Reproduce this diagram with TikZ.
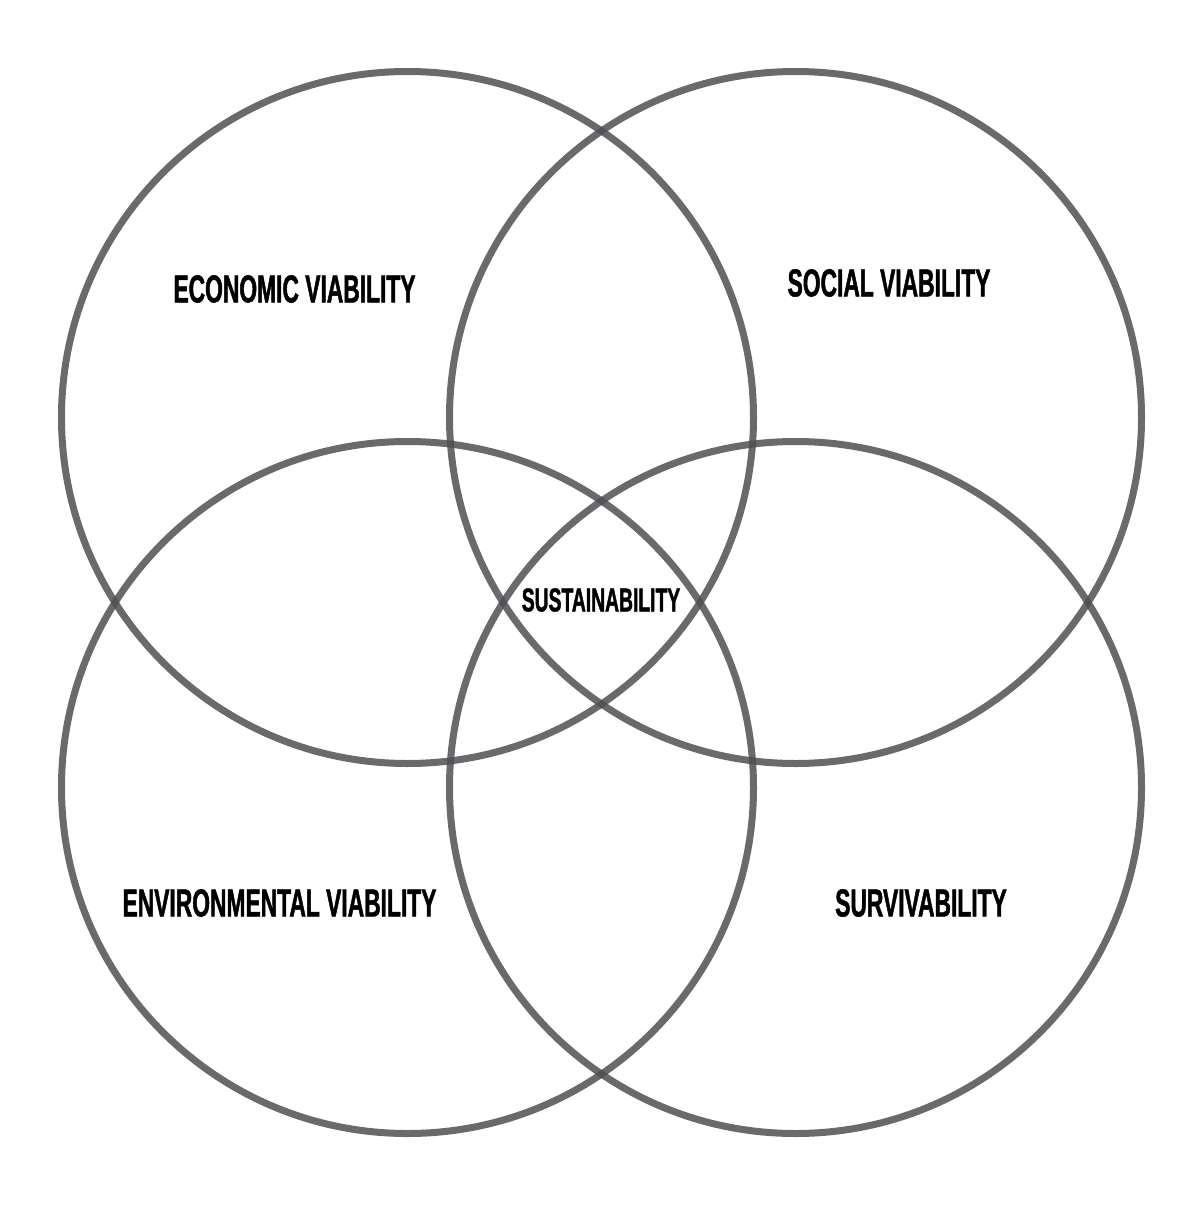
\documentclass[tikz,border=0pt]{standalone}
\usepackage{fontspec}
\setmainfont{Liberation Sans}[FakeStretch=0.585,BoldFeatures={FakeBold=1.2}]
\begin{document}
\begin{tikzpicture}[x=1pt,y=-1pt,
  ring/.style={draw={rgb,255:red,80;green,80;blue,84}, draw opacity=0.85, line width=7pt},
  big/.style={inner sep=0pt, font=\fontsize{39}{39}\selectfont\bfseries},
  small/.style={inner sep=0pt, font=\fontsize{33}{33}\selectfont\bfseries}]
\useasboundingbox (0,0) rectangle (1202,1206);
\fill[white] (0,0) rectangle (1202,1206);
\coordinate (c1) at (407.5,417.5);
\coordinate (c2) at (795.5,417.5);
\coordinate (c3) at (407.5,787.5);
\coordinate (c4) at (795.5,787.5);
\draw[ring] (c1) circle[radius=346];
\draw[ring] (c2) circle[radius=346];
\draw[ring] (c3) circle[radius=346];
\draw[ring] (c4) circle[radius=346];
\node[big] (eco) at (294.5,289) {ECONOMIC VIABILITY};
\node[big] (soc) at (889,283) {SOCIAL VIABILITY};
\node[small] (sus) at (601,600) {SUSTAINABILITY};
\node[big] (env) at (279.5,903) {ENVIRONMENTAL VIABILITY};
\node[big] (sur) at (921,903) {SURVIVABILITY};
\end{tikzpicture}
\end{document}
